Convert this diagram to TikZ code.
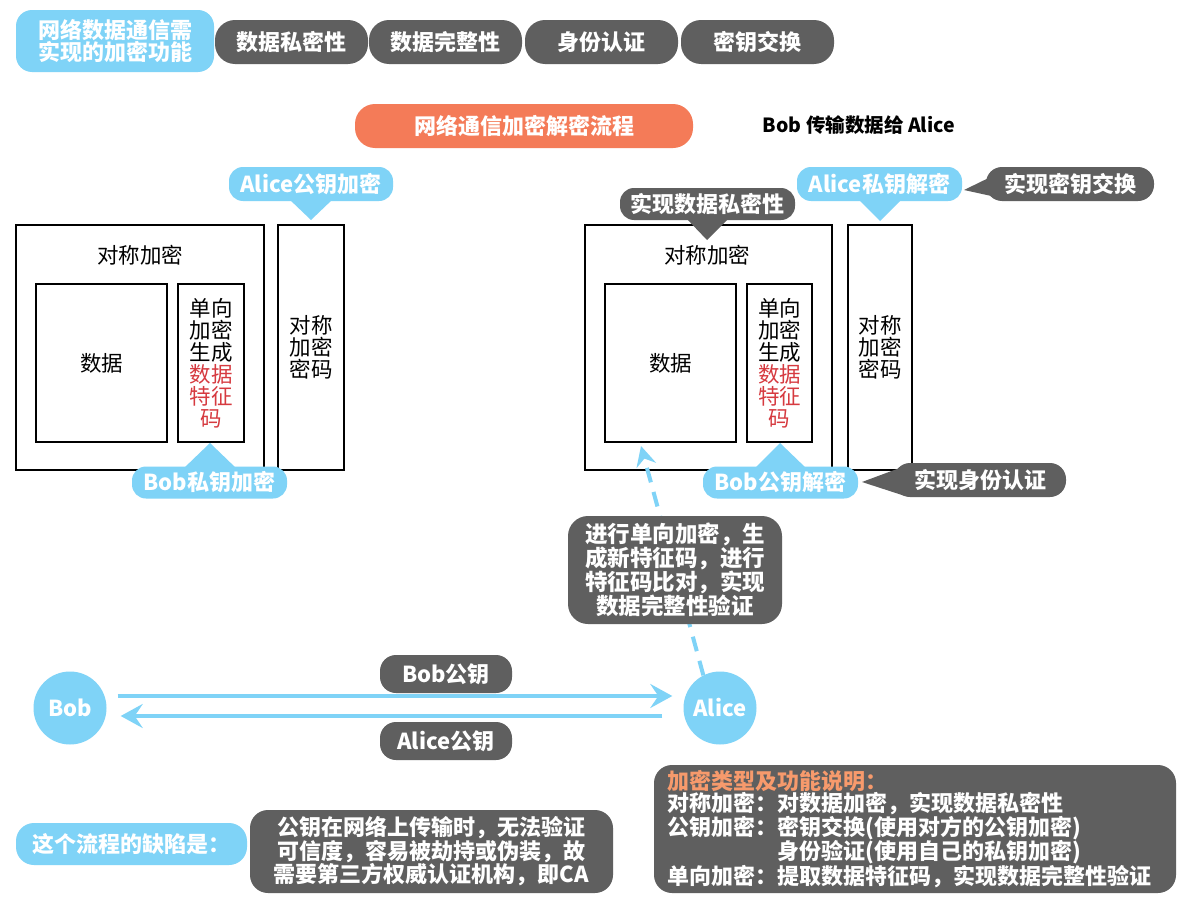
\documentclass[tikz,border=0pt]{standalone}
\usepackage{fontspec}
\setmainfont{Noto Sans CJK SC}
\usetikzlibrary{arrows.meta,calc}
\definecolor{lblue}{HTML}{7FD3F7}
\definecolor{dgray}{HTML}{5F5F5F}
\definecolor{orng}{HTML}{F47B58}
\definecolor{ltorng}{HTML}{F79A6C}
\definecolor{redt}{HTML}{D63A40}
\tikzset{
  bluepill/.style={fill=lblue, rounded corners=14pt, text=white, inner sep=0pt, align=center,
    font=\bfseries\fontsize{22}{23}\selectfont},
  graypill/.style={fill=dgray, rounded corners=16pt, text=white, inner sep=0pt, align=center,
    font=\bfseries\fontsize{22}{23}\selectfont},
  bx/.style={draw=black, line width=1.4pt, inner sep=0pt, align=center,
    font=\fontsize{21.5}{22}\selectfont},
  boxtext/.style={font=\fontsize{21.5}{22}\selectfont},
  flow/.style={draw=lblue, line width=3.5pt, -{Stealth[length=22pt,width=24pt,inset=8pt]}},
  dflow/.style={draw=lblue, line width=4pt, dash pattern=on 15pt off 10pt,
    -{Stealth[length=20pt,width=20pt,inset=7pt]}},
  person/.style={circle, fill=lblue, text=white, inner sep=0pt, minimum size=73pt,
    font=\bfseries\fontsize{22}{23}\selectfont},
}
\begin{document}
\begin{tikzpicture}[x=1pt,y=-1pt]
\useasboundingbox[fill=white] (0,0) rectangle (1184,902);

% header
\node[bluepill, rounded corners=16pt, minimum width=198, minimum height=62, font=\bfseries\fontsize{22}{22}\selectfont] (need) at (115,41) {网络数据通信需\\实现的加密功能};
\node[graypill, rounded corners=20pt, minimum width=153, minimum height=44] (f1) at (291.5,42) {数据私密性};
\node[graypill, rounded corners=20pt, minimum width=153, minimum height=44] (f2) at (445.5,42) {数据完整性};
\node[graypill, rounded corners=20pt, minimum width=153, minimum height=44] (f3) at (601.5,42) {身份认证};
\node[graypill, rounded corners=20pt, minimum width=153, minimum height=44] (f4) at (757.5,42) {密钥交换};

\node[fill=orng, rounded corners=20pt, text=white, minimum width=338, minimum height=44, inner sep=0pt,
  font=\bfseries\fontsize{22}{23}\selectfont] (title) at (524,126) {网络通信加密解密流程};
\node[font=\bfseries\fontsize{19.5}{21}\selectfont] (sub) at (859,125) {Bob 传输数据给 Alice};

% left group
\node[bx, minimum width=248, minimum height=245] (lsym) at (140,347.5) {};
\node[boxtext] (lsymt) at (140,255) {对称加密};
\node[bx, minimum width=131, minimum height=158] (ldata) at (101.5,363) {数据};
\node[bx, minimum width=66, minimum height=158] (lone) at (211,363) {单向\\加密\\生成\\\textcolor{redt}{数据}\\\textcolor{redt}{特征}\\\textcolor{redt}{码}};
\node[bx, minimum width=66, minimum height=245] (lkey) at (311,347.5) {对称\\加密\\密码};

% right group
\node[bx, minimum width=247, minimum height=245] (rsym) at (708.5,347.5) {};
\node[boxtext] (rsymt) at (707,255) {对称加密};
\node[bx, minimum width=131, minimum height=158] (rdata) at (670.5,363) {数据};
\node[bx, minimum width=65, minimum height=158] (rone) at (779.5,363) {单向\\加密\\生成\\\textcolor{redt}{数据}\\\textcolor{redt}{特征}\\\textcolor{redt}{码}};
\node[bx, minimum width=64, minimum height=245] (rkey) at (880,347.5) {对称\\加密\\密码};

% callouts
\fill[lblue] (289,199) -- (333,199) -- (311,220) -- cycle;
\node[bluepill, minimum width=164, minimum height=34] (ape) at (311,184) {Alice公钥加密};

\fill[lblue] (183,469) -- (237,469) -- (210,443) -- cycle;
\node[bluepill, minimum width=155, minimum height=32] (bpe) at (209.5,482.5) {Bob私钥加密};

\fill[dgray] (685,217) -- (730,217) -- (707,240) -- cycle;
\node[graypill, rounded corners=14pt, minimum width=175, minimum height=32] (priv) at (707.5,204) {实现数据私密性};

\fill[lblue] (858,199) -- (902,199) -- (880,221) -- cycle;
\node[bluepill, minimum width=165, minimum height=34] (apd) at (879.5,184) {Alice私钥解密};

\fill[dgray] (1005,170) -- (1005,199) -- (964,190) -- cycle;
\node[graypill, minimum width=168, minimum height=34] (kx) at (1070,184) {实现密钥交换};

\fill[lblue] (754,469) -- (807,469) -- (780,443) -- cycle;
\node[bluepill, minimum width=155, minimum height=32] (bpd) at (780.5,482.5) {Bob公钥解密};

\fill[dgray] (905,466) -- (905,496) -- (862,482) -- cycle;
\node[graypill, minimum width=172, minimum height=34] (auth) at (980,480) {实现身份认证};

% Bob and Alice
\node[person] (bob) at (70,708) {Bob};
\node[person] (alice) at (720,708) {Alice};
\coordinate (dtip) at (641,446);
\draw[dflow] (alice.117) -- (dtip);

\node[graypill, rounded corners=20pt, minimum width=214, minimum height=108,
  font=\bfseries\fontsize{22.5}{23}\selectfont] (cmp) at (675,570) {进行单向加密，生\\成新特征码，进行\\特征码比对，实现\\数据完整性验证};

\draw[flow] ($(bob.east)+(11,-12)$) -- ($(alice.west)+(-11,-12)$);
\draw[flow] ($(alice.west)+(-21,8)$) -- ($(bob.east)+(14,8)$);
\node[graypill, minimum width=132, minimum height=38] (bk) at (446,674) {Bob公钥};
\node[graypill, minimum width=132, minimum height=38] (ak) at (446,741) {Alice公钥};

% bottom
\node[bluepill, rounded corners=18pt, minimum width=231, minimum height=42] (flaw) at (131.5,844) {这个流程的缺陷是：};
\node[graypill, rounded corners=18pt, minimum width=363, minimum height=83,
  font=\bfseries\fontsize{22}{22.5}\selectfont] (ca) at (431.5,851.5) {公钥在网络上传输时，无法验证\\可信度，容易被劫持或伪装，故\\需要第三方权威认证机构，即CA};

\node[fill=dgray, rounded corners=18pt, minimum width=522, minimum height=128, inner sep=0pt] (legend) at (915,829) {};
\node[anchor=west, text=white, align=left, inner sep=0pt,
  font=\bfseries\fontsize{22}{22.3}\selectfont] (legendt) at (667,829) {\textcolor{ltorng}{加密类型及功能说明：}\\
对称加密：对数据加密，实现数据私密性\\
公钥加密：密钥交换(使用对方的公钥加密)\\
\hspace*{5em}身份验证(使用自己的私钥加密)\\
单向加密：提取数据特征码，实现数据完整性验证};
\end{tikzpicture}
\end{document}
